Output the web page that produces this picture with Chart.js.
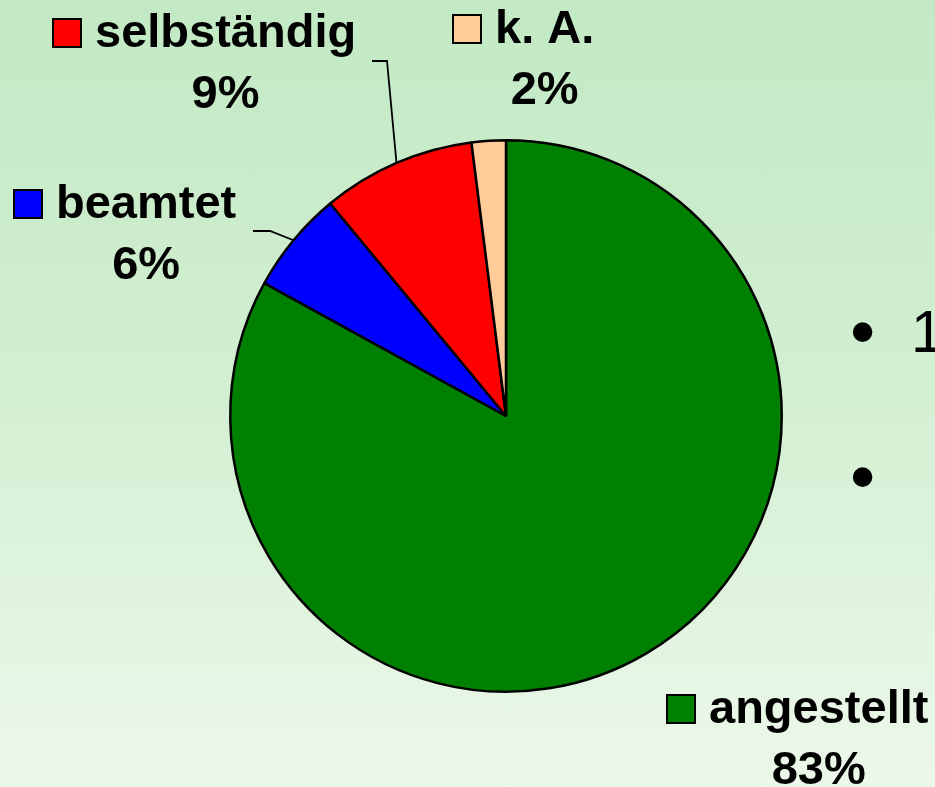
<!DOCTYPE html>
<html lang="de">
<head>
<meta charset="utf-8">
<title>Beschäftigungsstatus</title>
<script src="https://cdn.jsdelivr.net/npm/chart.js@4.4.0/dist/chart.umd.min.js"></script>
<style>
  html, body {
    margin: 0;
    padding: 0;
    width: 935px;
    height: 787px;
    overflow: hidden;
  }
  body {
    background: linear-gradient(to bottom, #c2e9c4 0%, #d3efd2 50%, #ecf8ea 100%);
  }
  #wrap {
    position: relative;
    width: 935px;
    height: 787px;
  }
</style>
</head>
<body>
<div id="wrap">
  <canvas id="statusChart" width="935" height="787"></canvas>
</div>
<script>
// Daten
const categories = ['angestellt', 'beamtet', 'selbständig', 'k. A.'];
const shares = [83, 6, 9, 2];
const percentLabels = ['83%', '6%', '9%', '2%'];
const sliceColors = ['#008000', '#0000ff', '#ff0000', '#ffcc99'];

// Position der Beschriftungen (linke Kante des Kästchens, Grundlinie der ersten Zeile)
const labelLayout = [
  { x: 667, y: 723, leader: null },
  { x: 14, y: 218, leader: { x: 253, y: 231, elbow: 270 } },
  { x: 53, y: 47, leader: { x: 372, y: 61, elbow: 387 } },
  { x: 453, y: 43, leader: null }
];

const FONT = 'bold 47px "Liberation Sans", Arial, sans-serif';
const BOX = 28;
const GAP = 14;
const LINE = 61;

// Beschriftungen und Führungslinien zeichnen
const labelPlugin = {
  id: 'sliceLabels',
  afterDraw(chart) {
    const ctx = chart.ctx;
    const arcs = chart.getDatasetMeta(0).data;
    ctx.save();
    ctx.font = FONT;
    ctx.textBaseline = 'alphabetic';

    arcs.forEach((arc, i) => {
      const lay = labelLayout[i];
      const p = arc.getProps(['x', 'y', 'startAngle', 'endAngle', 'outerRadius'], true);

      // Führungslinie
      if (lay.leader) {
        const mid = (p.startAngle + p.endAngle) / 2;
        const ex = p.x + Math.cos(mid) * p.outerRadius;
        const ey = p.y + Math.sin(mid) * p.outerRadius;
        ctx.beginPath();
        ctx.moveTo(ex, ey);
        ctx.lineTo(lay.leader.elbow, lay.leader.y);
        ctx.lineTo(lay.leader.x, lay.leader.y);
        ctx.strokeStyle = '#000';
        ctx.lineWidth = 1.8;
        ctx.stroke();
      }

      // Kästchen
      ctx.fillStyle = sliceColors[i];
      ctx.fillRect(lay.x, lay.y - BOX, BOX, BOX);
      ctx.strokeStyle = '#000';
      ctx.lineWidth = 2;
      ctx.strokeRect(lay.x, lay.y - BOX, BOX, BOX);

      // Text
      const tx = lay.x + BOX + GAP;
      const tw = ctx.measureText(categories[i]).width;
      ctx.fillStyle = '#000';
      ctx.textAlign = 'left';
      ctx.fillText(categories[i], tx, lay.y);
      ctx.textAlign = 'center';
      ctx.fillText(percentLabels[i], tx + tw / 2, lay.y + LINE);
    });

    // Aufzählungspunkte vom Folientext rechts
    ctx.textAlign = 'left';
    ctx.font = '72px "Liberation Sans", Arial, sans-serif';
    ctx.fillText('•', 850, 356);
    ctx.fillText('•', 850, 501);
    ctx.font = '59px "Liberation Sans", Arial, sans-serif';
    ctx.fillText('1', 911, 352);
    ctx.restore();
  }
};

// Diagramm erstellen
document.addEventListener('DOMContentLoaded', function() {
  const ctx = document.getElementById('statusChart').getContext('2d');
  window.statusChart = new Chart(ctx, {
    type: 'pie',
    data: {
      labels: categories,
      datasets: [{
        data: shares,
        backgroundColor: sliceColors,
        borderColor: '#000',
        borderWidth: 2.5
      }]
    },
    options: {
      responsive: false,
      animation: false,
      layout: {
        padding: { left: 229, right: 152, top: 139, bottom: 94 }
      },
      plugins: {
        legend: { display: false },
        tooltip: { enabled: false }
      }
    },
    plugins: [labelPlugin]
  });
});
</script>
</body>
</html>
